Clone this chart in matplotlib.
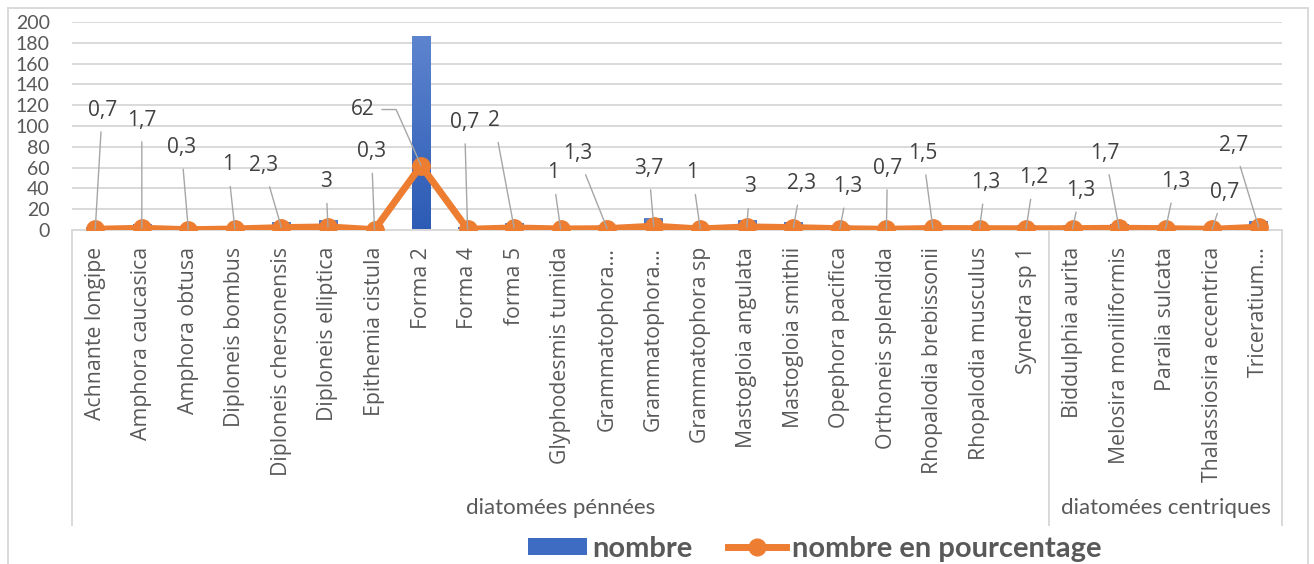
import matplotlib.pyplot as plt
import numpy as np
from matplotlib.colors import LinearSegmentedColormap
from matplotlib.lines import Line2D
from matplotlib.patches import Patch, Rectangle

species = [
    "Achnante longipe", "Amphora caucasica", "Amphora obtusa", "Diploneis bombus",
    "Diploneis chersonensis", "Diploneis elliptica", "Epithemia cistula", "Forma 2",
    "Forma 4", "forma 5", "Glyphodesmis tumida", "Grammatophora…", "Grammatophora…",
    "Grammatophora sp", "Mastogloia angulata", "Mastogloia smithii", "Opephora pacifica",
    "Orthoneis splendida", "Rhopalodia brebissonii", "Rhopalodia musculus", "Synedra sp 1",
    "Biddulphia aurita", "Melosira moniliformis", "Paralia sulcata",
    "Thalassiosira eccentrica", "Triceratium…",
]
nombre = [2, 5, 1, 3, 7, 9, 1, 186, 2, 6, 3, 4, 11, 3, 9, 7, 4, 2, 4, 4, 4,
          4, 5, 4, 2, 8]
pourcentage = [0.7, 1.7, 0.3, 1, 2.3, 3, 0.3, 62, 0.7, 2, 1, 1.3, 3.7, 1, 3, 2.3, 1.3,
               0.7, 1.5, 1.3, 1.2, 1.3, 1.7, 1.3, 0.7, 2.7]
groups = ["diatomées pénnées", "diatomées centriques"]
group_sizes = [21, 5]

# placement of each percentage label relative to its point, in pixels
label_offsets = [(7, 119), (0, 108), (-7, 82), (-7, 64), (-18, 62), (-2, 45), (-3, 78),
                 (-58, 56), (-3, 107), (-20, 107), (-8, 56), (-30, 75), (-5, 58),
                 (-8, 56), (3, 40), (8, 44), (8, 42), (1, 61), (-10, 75), (6, 46),
                 (8, 51), (8, 38), (-14, 75), (10, 47), (12, 37), (-25, 82)]

W, H = 1314, 564
BLUE_TOP = "#5D84CE"
BLUE_BOTTOM = "#2C5BB5"
ORANGE = "#ED7D31"
GRID = "#D9D9D9"
TEXT = "#595959"


def fmt(v):
    return ("%g" % v).replace(".", ",")


fig = plt.figure(figsize=(W / 100, H / 100), dpi=100)
ax = fig.add_axes([72 / W, 1 - 230 / H, 1210 / W, 208 / H])

x = np.arange(len(species))
bars = ax.bar(x, nombre, width=0.4, color="none", zorder=2)

# vertical gradient inside each bar
cmap = LinearSegmentedColormap.from_list("bar", [BLUE_BOTTOM, BLUE_TOP])
grad = np.linspace(0, 1, 256).reshape(-1, 1)
for b in bars:
    x0, w, h = b.get_x(), b.get_width(), b.get_height()
    ax.imshow(grad, extent=[x0, x0 + w, 0, h], origin="lower", cmap=cmap,
              aspect="auto", zorder=2)

ax.plot(x, pourcentage, color=ORANGE, lw=5, marker="o", ms=12.5, mec=ORANGE,
        solid_joinstyle="round", zorder=4)

ax.set_xlim(-0.5, len(species) - 0.5)
ax.set_ylim(0, 200)
ax.set_yticks(range(0, 201, 20))
ax.yaxis.grid(True, color=GRID, lw=1.4)
ax.set_axisbelow(True)
for s in ["top", "right", "left"]:
    ax.spines[s].set_visible(False)
ax.spines["bottom"].set_color(GRID)
ax.spines["bottom"].set_linewidth(1.4)

ax.tick_params(axis="y", length=0, pad=16, labelsize=14, labelcolor=TEXT)
for t in ax.get_yticklabels():
    t.set_family("Lato")
ax.set_xticks(x)
ax.set_xticklabels(species, rotation=90, family="Open Sans", fontsize=15.3, color=TEXT)
ax.tick_params(axis="x", length=0, pad=12)

# data labels with leader lines
for i, v in enumerate(pourcentage):
    dx, dy = label_offsets[i]
    if i == 7:
        arrow = dict(arrowstyle="-", color="#A6A6A6", lw=1, shrinkA=3, shrinkB=0,
                     relpos=(1, 0.5), connectionstyle="angle,angleA=0,angleB=114,rad=0")
    else:
        arrow = dict(arrowstyle="-", color="#A6A6A6", lw=1, shrinkA=6, shrinkB=0)
    ax.annotate(fmt(v), (x[i], v), xytext=(dx, dy), textcoords="offset pixels",
                ha="center", va="center", family="Open Sans", fontsize=15,
                color="#404040", arrowprops=arrow, zorder=5)

# group separators and group names under the category labels
trans = ax.get_xaxis_transform()
y_low = (230 - 525) / 208
edges = np.concatenate([[0], np.cumsum(group_sizes)]) - 0.5
for e in edges:
    ax.add_line(Line2D([e, e], [0, y_low], transform=trans, color=GRID, lw=1.4,
                       clip_on=False))
for g, a, b in zip(groups, edges[:-1], edges[1:]):
    ax.text((a + b) / 2, (230 - 508) / 208, g, transform=trans, ha="center",
            va="center", family="Lato", fontsize=16, color=TEXT)

handles = [Patch(facecolor="#3E6CC2", edgecolor="none"),
           Line2D([], [], color=ORANGE, lw=5, marker="o", ms=12)]
fig.legend(handles, ["nombre", "nombre en pourcentage"], loc="center",
           bbox_to_anchor=(815 / W, 1 - 549 / H), ncol=2, frameon=False,
           prop=dict(family="Lato", weight="bold", size=21), labelcolor=TEXT,
           handlelength=2.0, handleheight=0.55, handletextpad=0.2, columnspacing=1.2)

fig.add_artist(Rectangle((8 / W, -0.05), 1300 / W, 1.05 - 8 / H, transform=fig.transFigure,
                         fill=False, edgecolor=GRID, lw=1.4))

fig.savefig("out.png", dpi=100)
